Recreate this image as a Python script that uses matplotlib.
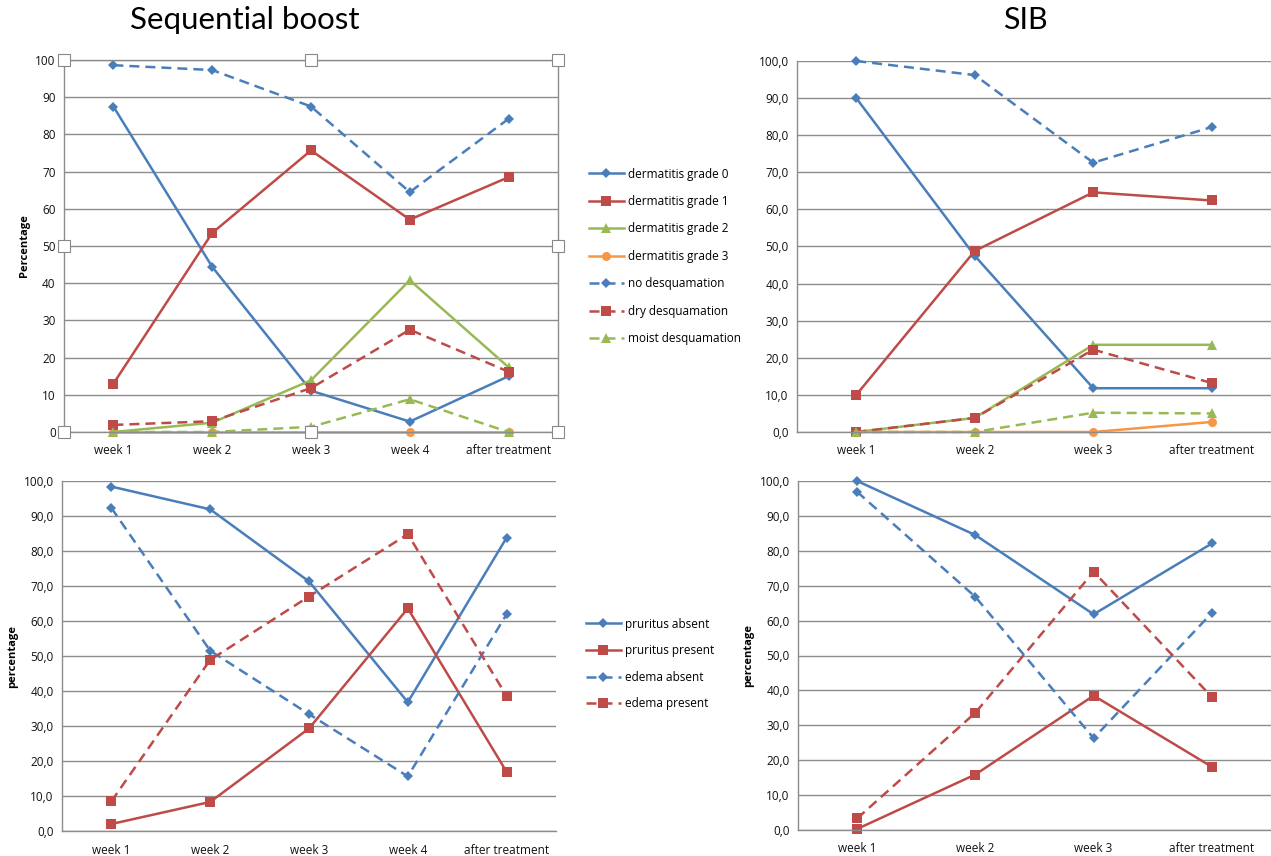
import numpy as np
import matplotlib
matplotlib.use("Agg")
import matplotlib.pyplot as plt
from matplotlib.ticker import FuncFormatter

plt.rcParams['font.family'] = ['Open Sans', 'DejaVu Sans']

# categories
seqWeeks = ["week 1", "week 2", "week 3", "week 4", "after treatment"]
sibWeeks = ["week 1", "week 2", "week 3", "after treatment"]

# top row: dermatitis / desquamation
seqDerm0 = [87.5, 44.4, 11.1, 2.8, 15.0]
seqDerm1 = [13.0, 53.5, 75.7, 57.1, 68.5]
seqDerm2 = [0.0, 2.5, 13.9, 40.8, 17.4]
seqDerm3 = [0.0, 0.0, 0.0, 0.0, 0.0]
seqNoDesq = [98.6, 97.3, 87.5, 64.5, 84.2]
seqDryDesq = [1.9, 2.9, 11.8, 27.5, 16.2]
seqMoistDesq = [0.0, 0.0, 1.4, 8.8, 0.0]

sibDerm0 = [90.0, 47.5, 11.8, 11.8]
sibDerm1 = [10.0, 48.8, 64.6, 62.4]
sibDerm2 = [0.0, 3.8, 23.5, 23.5]
sibDerm3 = [0.0, 0.0, 0.0, 2.7]
sibNoDesq = [100.0, 96.2, 72.6, 82.2]
sibDryDesq = [0.0, 3.8, 22.2, 13.2]
sibMoistDesq = [0.0, 0.0, 5.2, 5.0]

# bottom row: pruritus / edema
seqPruAbs = [98.4, 91.9, 71.3, 36.8, 83.8]
seqPruPres = [2.0, 8.3, 29.3, 63.6, 16.9]
seqEdAbs = [92.3, 51.5, 33.4, 15.6, 61.9]
seqEdPres = [8.5, 48.9, 67.0, 84.8, 38.6]

sibPruAbs = [100.0, 84.5, 61.8, 82.1]
sibPruPres = [0.3, 15.9, 38.5, 18.1]
sibEdAbs = [96.9, 66.8, 26.3, 62.2]
sibEdPres = [3.3, 33.6, 74.0, 38.1]

dermLabels = ["dermatitis grade 0", "dermatitis grade 1", "dermatitis grade 2",
              "dermatitis grade 3", "no desquamation", "dry desquamation",
              "moist desquamation"]
pruLabels = ["pruritus absent", "pruritus present", "edema absent", "edema present"]

BLUE = "#4a7ebb"
RED = "#be4b48"
GREEN = "#98b954"
ORANGE = "#f79646"
GRID = "#8c8c8c"
DASH = (0, (4, 2.4))

# (color, marker, markersize, linestyle)
dermStyles = [(BLUE, "D", 5, "-"), (RED, "s", 7, "-"), (GREEN, "^", 7, "-"),
              (ORANGE, "o", 6.5, "-"), (BLUE, "D", 5, DASH), (RED, "s", 7, DASH),
              (GREEN, "^", 7, DASH)]
pruStyles = [(BLUE, "D", 5, "-"), (RED, "s", 7, "-"), (BLUE, "D", 5, DASH), (RED, "s", 7, DASH)]


def styleAxes(ax, weeks, comma, box=False):
    ax.set_xlim(-0.5, len(weeks) - 0.5)
    ax.set_ylim(0, 100)
    ax.set_yticks(np.arange(0, 101, 10))
    ax.set_xticks(range(len(weeks)))
    ax.set_xticklabels(weeks)
    if comma:
        ax.yaxis.set_major_formatter(FuncFormatter(lambda v, p: ("%.1f" % v).replace(".", ",")))
    ax.tick_params(length=0, labelsize=8.5, colors="#111111")
    ax.tick_params(axis="x", pad=9)
    ax.tick_params(axis="y", pad=6)
    ax.grid(axis="y", color=GRID, lw=1)
    ax.set_axisbelow(True)
    for s in ax.spines.values():
        s.set_color(GRID)
        s.set_linewidth(1)
    if not box:
        ax.spines["top"].set_visible(False)
        ax.spines["right"].set_visible(False)


def drawSeries(ax, seriesList, styles, labels):
    handles = []
    for vals, st, lab in zip(seriesList, styles, labels):
        col, mk, ms, ls = st
        h, = ax.plot(range(len(vals)), vals, color=col, marker=mk, markersize=ms,
                     linestyle=ls, lw=1.8, label=lab, clip_on=False,
                     markeredgewidth=0)
        handles.append(h)
    return handles


fig = plt.figure(figsize=(12.71, 8.56), dpi=100)

axTL = fig.add_axes([64 / 1271, 1 - 432 / 856, 494 / 1271, 372 / 856])
axTR = fig.add_axes([797 / 1271, 1 - 432 / 856, 474 / 1271, 371 / 856])
axBL = fig.add_axes([62 / 1271, 1 - 831 / 856, 494 / 1271, 350 / 856])
axBR = fig.add_axes([798 / 1271, 1 - 830 / 856, 473 / 1271, 349 / 856])

styleAxes(axTL, seqWeeks, False, box=True)
styleAxes(axTR, sibWeeks, True)
styleAxes(axBL, seqWeeks, True)
styleAxes(axBR, sibWeeks, True)

dermH = drawSeries(axTL, [seqDerm0, seqDerm1, seqDerm2, seqDerm3, seqNoDesq, seqDryDesq, seqMoistDesq],
                   dermStyles, dermLabels)
drawSeries(axTR, [sibDerm0, sibDerm1, sibDerm2, sibDerm3, sibNoDesq, sibDryDesq, sibMoistDesq],
           dermStyles, dermLabels)
pruH = drawSeries(axBL, [seqPruAbs, seqPruPres, seqEdAbs, seqEdPres], pruStyles, pruLabels)
drawSeries(axBR, [sibPruAbs, sibPruPres, sibEdAbs, sibEdPres], pruStyles, pruLabels)

# excel selection handles around the first chart
hx = [0, 0.5, 1, 0, 1, 0, 0.5, 1]
hy = [1, 1, 1, 0.5, 0.5, 0, 0, 0]
axTL.plot(hx, hy, linestyle="none", marker="s", markersize=8, markerfacecolor="white",
          markeredgecolor="#888888", markeredgewidth=0.8, transform=axTL.transAxes,
          clip_on=False, zorder=10)

for ax, lab in [(axTL, "Percentage"), (axBL, "percentage"), (axBR, "percentage")]:
    ax.set_ylabel(lab, fontsize=8, fontweight="bold")

fig.legend(handles=dermH, labels=dermLabels, loc="upper left", bbox_to_anchor=(578 / 1271, 1 - 157 / 856),
           frameon=False, fontsize=8.5, handlelength=3.0, labelspacing=1.22, handletextpad=0.3)
fig.legend(handles=pruH, labels=pruLabels, loc="upper left", bbox_to_anchor=(575 / 1271, 1 - 607 / 856),
           frameon=False, fontsize=8.5, handlelength=3.0, labelspacing=1.15, handletextpad=0.3)

fig.text(245 / 1271, 1 - 20 / 856, "Sequential boost", fontsize=22.5, ha="center", va="center", family="Lato")
fig.text(1025 / 1271, 1 - 20 / 856, "SIB", fontsize=22, ha="center", va="center", family="Lato")

fig.savefig("out.png", dpi=100, facecolor="white")
